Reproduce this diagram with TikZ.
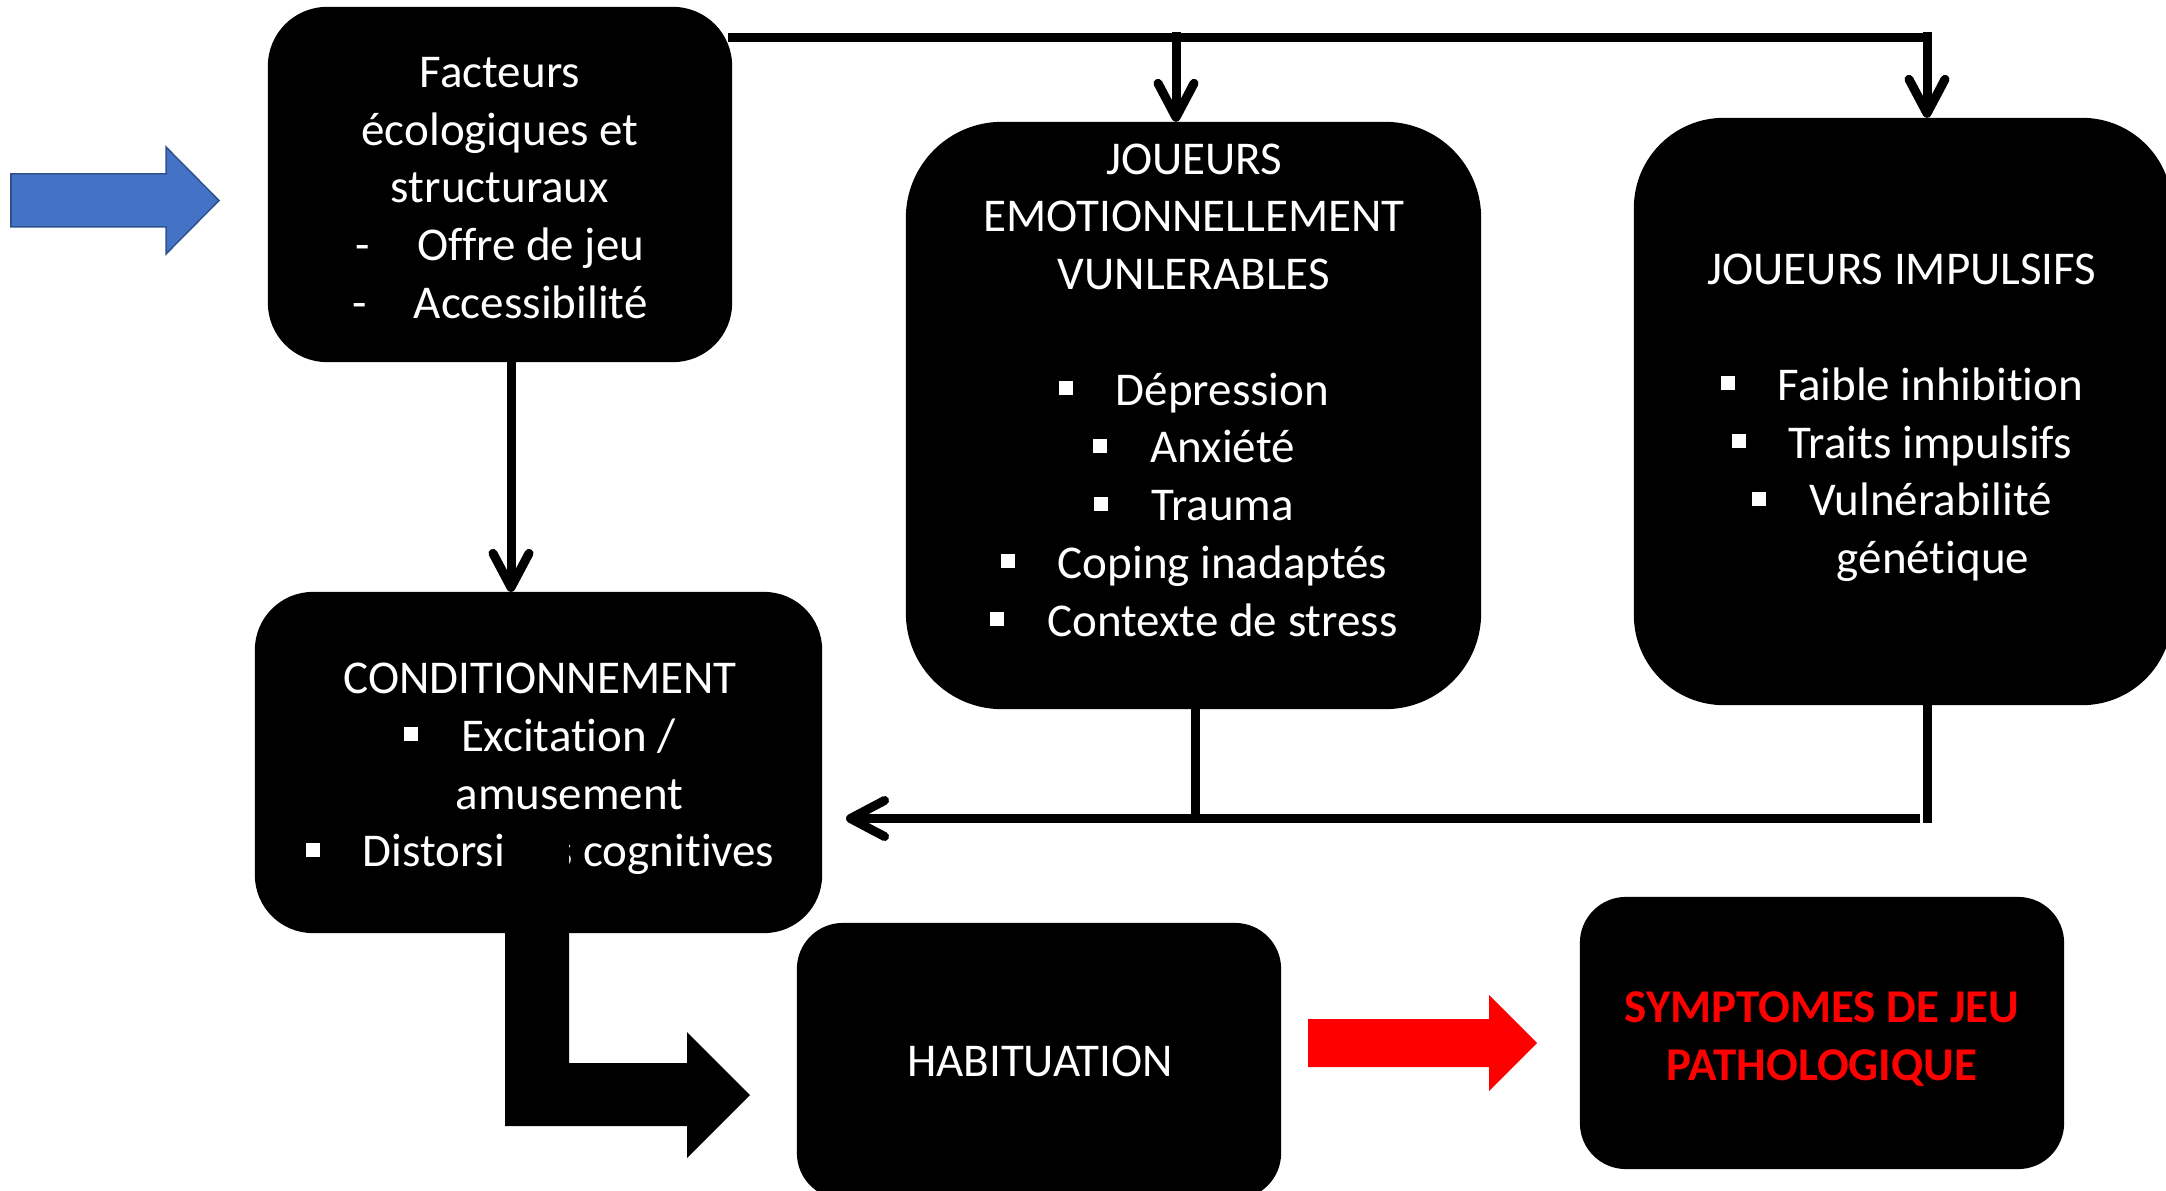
\documentclass[tikz,border=0pt]{standalone}
\usepackage{fontspec}
\setmainfont{Carlito}[Ligatures={NoCommon}]
\usetikzlibrary{arrows.meta}
\definecolor{pptblue}{HTML}{4472C4}
\definecolor{pptbluedark}{HTML}{2F528F}
\definecolor{symred}{HTML}{FF0000}
\newcommand{\sqbul}{\rule[0.1cm]{0.14cm}{0.14cm}\hspace{0.43cm}}
\begin{document}
\begin{tikzpicture}[x=0.01cm,y=-0.01cm,
  box/.style={fill=black, inner sep=0pt, outer sep=0pt},
  txt/.style={text=white, align=center, font=\fontsize{13.37pt}{16.42pt}\selectfont, inner sep=0pt},
  conn/.style={line width=0.09cm, draw=black},
  barb/.style={-{Straight Barb[length=0.34cm,width=0.36cm,round]}},
]
\useasboundingbox (0,0) rectangle (2166,1191);

% boxes
\node[box, minimum width=4.64cm, minimum height=3.55cm, rounded corners=0.59cm] (fact) at (500,184.5) {};
\node[box, minimum width=5.75cm, minimum height=5.87cm, rounded corners=0.96cm] (emo) at (1193.5,415.5) {};
\node[box, minimum width=5.38cm, minimum height=5.87cm, rounded corners=0.90cm] (imp) at (1903,411.5) {};
\node[box, minimum width=5.67cm, minimum height=3.41cm, rounded corners=0.58cm] (cond) at (538.5,762.5) {};
\node[box, minimum width=4.84cm, minimum height=2.76cm, rounded corners=0.46cm] (hab) at (1039,1061) {};
\node[box, minimum width=4.84cm, minimum height=2.72cm, rounded corners=0.46cm] (sym) at (1822,1033) {};

% texts
\node[txt] (factT) at (500,188) {Facteurs\\écologiques et\\structuraux\\-\hspace{0.47cm}Offre de jeu\\-\hspace{0.47cm}Accessibilité};
\node[txt] (emoT) at (1194,390) {JOUEURS\\EMOTIONNELLEMENT\\VUNLERABLES\\[0.577cm]\sqbul Dépression\\\sqbul Anxiété\\\sqbul Trauma\\\sqbul Coping inadaptés\\\sqbul Contexte de stress};
\node[txt] (impT) at (1902,418) {JOUEURS IMPULSIFS\\[0.577cm]\sqbul Faible inhibition\\\sqbul Traits impulsifs\\\sqbul Vulnérabilité\\\hspace*{0.62cm}génétique};
\node[txt] (condT) at (540,769) {CONDITIONNEMENT\\\sqbul Excitation /\\\hspace*{0.59cm}amusement\\\sqbul Distorsions cognitives};
\node[txt] (habT) at (1040,1061) {HABITUATION};
\node[txt, text=symred, font=\fontsize{13.37pt}{16.42pt}\selectfont\bfseries] (symT) at (1822,1039) {SYMPTOMES DE JEU\\PATHOLOGIQUE};

% top distribution line
\coordinate (t0) at (728,38);
\coordinate (t2) at (1927,38);
\coordinate (t1a) at (1176,32);
\coordinate (t2a) at (1927,32);
\draw[conn] (t0) -- (t2);
\draw[conn, barb] (t1a) -- (t1a |- emo.north);
\draw[conn, barb] (t2a) -- (t2a |- imp.north);

% facteurs -> conditionnement
\coordinate (fc) at (511,0);
\draw[conn, barb] (fc |- fact.south) -- (fc |- cond.north);

% feedback line
\coordinate (b1) at (1195,818.5);
\coordinate (b2) at (1927,823);
\coordinate (b3) at (1920,818.5);
\coordinate (b4) at (846,818.5);
\draw[conn] (emo.south -| b1) -- (b1);
\draw[conn] (imp.south -| b2) -- (b2);
\draw[conn, barb] (b3) -- (b4);

% bent arrow conditionnement -> habituation
\fill[black] (505,818) -- (505,1126) -- (687,1126) -- (687,1158) -- (750,1095)
  -- (687,1032) -- (687,1063) -- (569,1063) -- (569,818) -- cycle;

% blue input arrow
\filldraw[fill=pptblue, draw=pptbluedark, line width=0.015cm]
  (11,174) -- (166,174) -- (166,147) -- (219,200.5) -- (166,254) -- (166,227) -- (11,227) -- cycle;

% red arrow habituation -> symptomes
\fill[symred] (1308,1019) -- (1489,1019) -- (1489,995) -- (1537,1043)
  -- (1489,1091) -- (1489,1067) -- (1308,1067) -- cycle;
\end{tikzpicture}
\end{document}
